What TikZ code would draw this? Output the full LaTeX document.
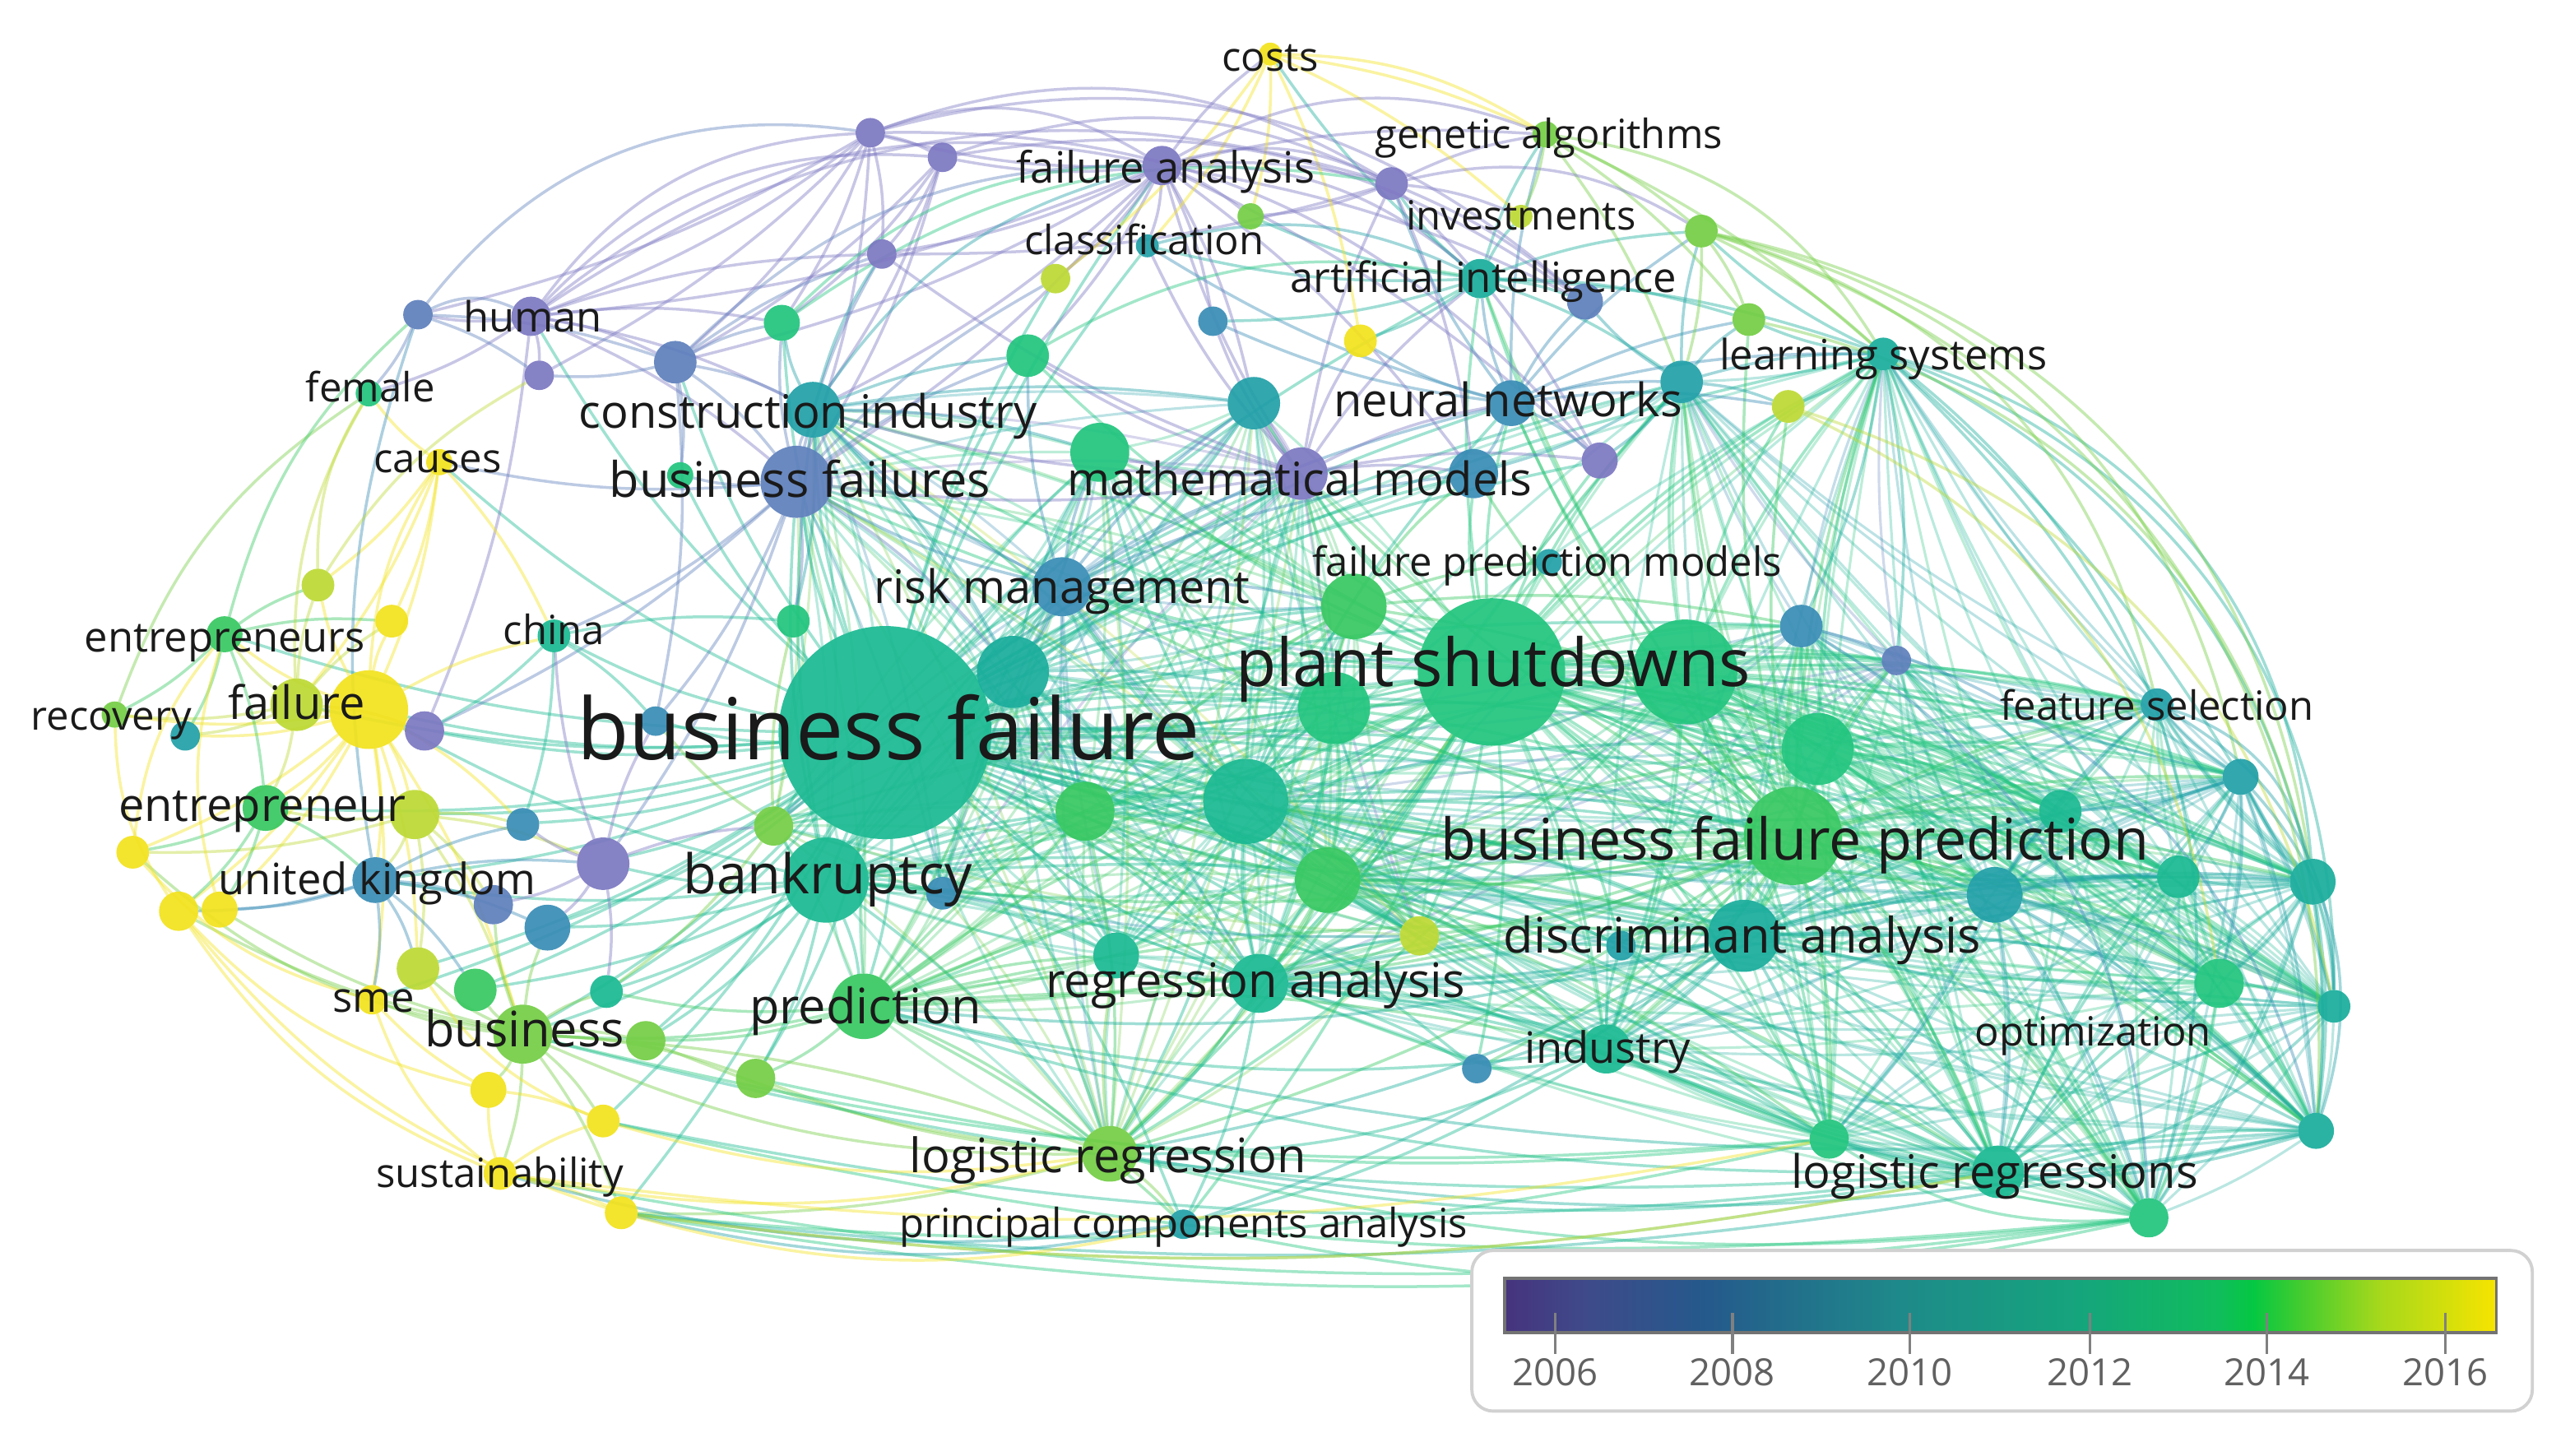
\documentclass[tikz,border=0pt]{standalone}
\usepackage{fontspec}
\setmainfont{Open Sans}
\pgfdeclarelayer{edges}
\pgfdeclarelayer{labels}
\pgfsetlayers{edges,main,labels}
\definecolor{Y6}{HTML}{7D78C2}
\definecolor{Y7}{HTML}{5F80BC}
\definecolor{Y8}{HTML}{3A8DB6}
\definecolor{Y9}{HTML}{22A0A8}
\definecolor{Y10}{HTML}{1AAD9C}
\definecolor{Y11}{HTML}{1BB992}
\definecolor{Y12}{HTML}{22C57E}
\definecolor{Y13}{HTML}{38C862}
\definecolor{Y14}{HTML}{74CE46}
\definecolor{Y15}{HTML}{BCD935}
\definecolor{Y16}{HTML}{F2E21E}
\definecolor{labtext}{HTML}{1A1A1A}
\definecolor{V0}{HTML}{46337E}
\definecolor{V1}{HTML}{3F4A8A}
\definecolor{V2}{HTML}{25598C}
\definecolor{V3}{HTML}{1E8A8A}
\definecolor{V4}{HTML}{15A57C}
\definecolor{V5}{HTML}{10BD5C}
\definecolor{V6}{HTML}{05C842}
\definecolor{V7}{HTML}{40CC30}
\definecolor{V8}{HTML}{A4D81C}
\definecolor{V9}{HTML}{F7E400}
\pgfdeclarehorizontalshading{viridisbar}{100bp}{color(0bp)=(V0); color(25bp)=(V0); color(29bp)=(V1); color(35bp)=(V2); color(45bp)=(V3); color(54bp)=(V4); color(61bp)=(V5); color(62.75bp)=(V6); color(65bp)=(V7); color(69bp)=(V8); color(75bp)=(V9); color(100bp)=(V9)}
\newcommand\rightset{ps,ps3,g14,bfp,t10,tg2,t11,t12,tg3,g15,t13,t14,lrs,g17,g16,da,ind,fs,b6,p8,t8,g13,ra,bf,ls,t3}
\newcommand\centreset{bf,bank,pred,t7,rm,g12,t8,g13,ra,ra1,lr,ps,ps1,ps2,g4,mm,t2,g11,t9,yg4,bfs,ci}
\begin{document}
\begin{tikzpicture}[x=0.02cm, y=-0.02cm,
  kw/.style={circle, inner sep=0pt, outer sep=0pt, fill opacity=0.93},
  lnk/.style={line width=1pt, draw opacity=0.42},
  lnkd/.style={line width=0.9pt, draw opacity=0.3},
  lab/.style={font=\fontsize{#1}{#1}\selectfont, anchor=mid, inner sep=0pt, text=labtext, yshift={-0.23*#1*1pt}},
  yearlab/.style={font=\fontsize{13}{13}\selectfont, text=black!62, anchor=mid, inner sep=0pt},
  tickmark/.style={draw=black!50, line width=0.9pt}]
\useasboundingbox (0,0) rectangle (1568,888);
% ---------- keyword nodes ----------
\foreach \n/\x/\y/\r/\c in {
bf/540/447/65/Y11, ps/910/410/45/Y12,
costs/775/33/7/Y16, gen/943/82/8/Y14, fa/709/101/12/Y6, p1/531/81/9/Y6, p2/575/96/9/Y6,
p3/538/155/9/Y6, inv/849/112/10/Y6, invy/928/132/7/Y15, g1/763/132/8/Y14, cls/700/150/7/Y9,
y1/644/170/9/Y15, ai/903/170/12/Y10, b1/967/184/11/Y7, g2/1038/141/10/Y14, yg1/1067/195/10/Y14,
t1/740/196/9/Y8, y2/830/208/10/Y16, g3/627/217/13/Y12, t2/765/246/16/Y9, nn/922/246/14/Y8,
t3/1026/233/13/Y9, y3/1091/248/10/Y15, ls/1149/216/10/Y10, g4/671/276/18/Y12, mm/794/289/16/Y6,
t4/899/289/15/Y8, p4/976/281/11/Y6, hu0/255/192/9/Y7, human/324/193/12/Y6, p5/329/229/9/Y6,
b2/412/221/13/Y7, female/225/240/8/Y12, g5/477/197/11/Y12, ci/496/250/17/Y9, causes/268/282/8/Y16,
bfs/486/294/22/Y7, g6/415/290/8/Y12, yg2/194/357/10/Y15, y4/239/379/10/Y16, ent/137/387/11/Y13,
china/338/388/10/Y11, g7/484/379/10/Y12, fail1/181/430/16/Y15, fail2/225/433/24/Y16, p6/259/446/12/Y6,
rec/70/436/8/Y14, t5/113/449/9/Y9, t6/400/440/9/Y8, entr1/162/493/14/Y13, entr2/253/497/15/Y15,
y5/81/520/10/Y16, b3/319/503/10/Y8, p7/368/527/16/Y6, uk/229/537/14/Y8, b4/301/552/12/Y7,
b5/334/566/14/Y8, y6/109/556/12/Y16, y7/134/555/11/Y16, yg3/255/591/13/Y15, sme/227/610/9/Y16,
g8/290/604/13/Y13, tg1/370/605/10/Y11, bus/319/631/18/Y14, g9/394/635/12/Y14, y8/298/665/11/Y16,
y9/368/684/10/Y16, sus/305/716/10/Y16, y10/379/740/10/Y16, g10/461/658/12/Y14, bank/504/537/26/Y11,
pred/527/614/20/Y13, g11/472/504/12/Y14, t7/618/410/22/Y10, rm/648/358/18/Y8, g12/662/495/18/Y13,
t8/760/489/26/Y11, t9/575/545/10/Y8, ps1/826/370/20/Y13, ps2/814/432/22/Y12, ps3/1028/410/32/Y12,
g13/810/537/20/Y13, yg4/866/571/12/Y15, ra1/681/583/14/Y11, ra/768/600/18/Y11, lr/677/704/17/Y14,
pca/722/747/9/Y9, da1/989/577/9/Y9, da/1064/571/22/Y10, ind1/901/652/9/Y8, ind/980/640/15/Y11,
b6/1099/382/13/Y8, p8/1157/403/9/Y7, fs/1316/430/10/Y9, g14/1109/457/22/Y12, bfp/1094/510/30/Y13,
t10/1217/546/17/Y9, tg2/1329/535/13/Y11, t11/1411/538/14/Y10, t12/1367/474/11/Y9, tg3/1257/495/13/Y11,
g15/1354/600/15/Y12, t13/1424/614/10/Y10, t14/1413/690/11/Y10, g16/1116/695/12/Y12, lrs/1219/715/16/Y11,
g17/1311/743/12/Y12, t15/945/343/8/Y9}{
  \xglobal\colorlet{col-\n}{\c}
  \node[kw, fill=\c, minimum size={2*\r*0.02cm}] (\n) at (\x,\y) {};
}
% ---------- links ----------
\begin{pgfonlayer}{edges}
% dense right and centre webs
\foreach \a [count=\i] in \rightset {
  \foreach \b [count=\j] in \rightset {
    \ifnum\j>\i \draw[lnkd, draw=col-\a] (\a) to[bend left=6] (\b); \fi
  }
}
\foreach \a [count=\i] in \centreset {
  \foreach \b [count=\j] in \centreset {
    \ifnum\j>\i \draw[lnkd, draw=col-\a] (\a) to[bend right=6] (\b); \fi
  }
}
\foreach \a/\l in {
bf/{ps,ps3,ps2,ps1,bfp,g14,bank,pred,t7,rm,g12,t8,t9,g13,ra,ra1,lr,pca,da,da1,ind,ind1,bfs,ci,g4,mm,t2,nn,ai,fa,human,b2,g5,g7,china,fail2,fail1,entr1,entr2,uk,p7,b5,b3,bus,g8,tg1,g9,g10,y9,sme,p6,t6,g11,yg4,t10,tg2,lrs,g16,t3,ls,b6,g3,y1,t4,cls,p4,ent,causes,g6,yg3,y10},
ps/{ps3,ps1,ps2,bfp,g14,da,ra,g13,t8,nn,ai,mm,t4,rm,t7,bank,pred,lr,ind,t10,tg2,t11,t12,fs,b6,p8,g15,lrs,t13,t14,g16,g17,ls,t3,y3,yg4,ci,bfs,g4,g12,tg3,da1,t15,p4,g3,t2,ra1,ind1,pca},
bfp/{ps3,g14,da,t10,tg2,t11,t12,tg3,g15,t13,t14,lrs,g16,g17,fs,b6,p8,ind,ind1,ra,lr,pred,bank,t8,g13,ls,nn,ai,t3,yg1,y3,mm,t4,rm,g12,yg4,da1,t15},
ps3/{g14,da,t10,tg2,t11,t12,fs,g15,t13,t14,lrs,g17,b6,p8,ls,t3,y3,nn,ai,ind,ra,lr,tg3,g16},
g14/{t10,tg2,t11,t12,tg3,g15,t13,t14,lrs,g17,fs,da,b6,ls},
da/{t10,tg2,t11,g15,t13,t14,lrs,g16,g17,ind,ind1,da1,ra,lr,pca,tg3,t12},
t10/{tg2,t11,t12,tg3,g15,t13,t14,lrs,g17,g16,fs},
lrs/{g17,g16,t14,t13,g15,tg2,t11,t12,ind,da1},
t11/{t12,tg2,g15,t13,t14,g17,fs},
t12/{fs,tg2,tg3,g15,t13,t14},
g15/{t13,t14,g17,tg2},
bank/{pred,t8,g12,ra,ra1,lr,t7,rm,bfs,ci,uk,bus,g8,fail2,p7,b5,t9,g11,tg1,g9,g10,mm,g13,da,ind},
pred/{lr,ra,ra1,g10,bus,g9,tg1,t8,g12,g13,pca,da,ind},
ra/{lr,ra1,pca,g13,t8,yg4,ind1,ind,da1,g16,lrs},
t8/{g12,g13,ra1,lr,t7,rm,ps2,ps1,g4,mm,nn,yg4,bfp,da,g14,ps3,t10,lrs,ind},
g13/{da,bfp,ind,lr,ra,g14,t10,lrs,g16},
g12/{ra,lr,pred,g13,ps2,ps1},
t7/{ps1,ps2,g4,g12,rm},
ps2/{ps1,g13,g12,ra,da,bfp,g14},
ps1/{g4,mm,t4,t15,g14,b6},
rm/{t7,g4,mm,ci,bfs,t2,nn,g3,ps1,t4},
mm/{g4,t2,t4,nn,ai,p4,fa,inv,cls,t1,y2,g3,ci,bfs,p3},
nn/{ai,t4,t3,y2,t1,b1,p4,y3,ls,g2,yg1,gen,inv,cls},
ai/{gen,inv,invy,g2,yg1,b1,cls,y2,t3,ls,g1,t1,costs},
t3/{ls,y3,yg1,g2,b1,t4,p4},
ls/{y3,yg1,g2,b6,p8,fs,t12},
fa/{p1,p2,p3,inv,cls,human,b2,bfs,ci,t2,t1,g1,b1,p4,t4,g3,y1,gen,costs},
p1/{p2,p3,human,hu0,p5,b2,bfs,g5},
p2/{p3,b2,bfs,g5,ci},
inv/{p4,b1,gen,invy,g1,t4,p3},
costs/{gen,cls,y2,invy,g1,y1},
gen/{g2,yg1,invy,ls,t3},
g2/{yg1,t3,ls},
human/{hu0,p5,b2,female,bfs,ci,p6,g5,p3},
hu0/{p5,female,b2},
b2/{p5,bfs,ci,g5,g6,t6,p3},
bfs/{ci,g6,g5,g7,t6,china,p6,causes,p7,t7,g3,y1,p3},
ci/{g5,g3,g4,t2,t7,g7,p3},
causes/{yg2,y4,fail2,female,china,fail1},
fail2/{fail1,y4,yg2,ent,rec,entr1,entr2,y5,uk,china,p6,bus,sme,yg3,y6,y7,b3,t5},
fail1/{ent,rec,t5,entr1,y4,yg2,p6},
ent/{rec,yg2,y4,entr1,t5},
entr2/{entr1,uk,y5,b3,p7,b4,yg3,bus},
entr1/{y5,y6,y7,uk},
uk/{y6,y7,b4,b5,p7,b3,yg3,sme,g8},
bus/{g8,sme,yg3,y8,y9,sus,y10,g9,tg1,b4,b5,g10,lr,y6,y7},
sus/{y8,y9,y10},
y8/{y9,sme},
p7/{b3,b4,b5,t6,tg1,g11,china},
china/{t6,g7,b3,p6},
g11/{g7,t6,tg1},
lr/{pca,g10,y10,ra1,g9},
ind/{ind1,da1,g16,pca}}{
  \foreach \b in \l {\draw[lnk, draw=col-\a] (\a) to[bend left=8] (\b);}
}
% outer arcs
\foreach \a/\b/\g in {
lrs/y10/9, g17/y10/9, g17/sus/9, lrs/bus/9, g16/y10/9, g16/g10/9, lrs/pred/9, g17/lr/10,
t14/lr/10, t14/pred/9, lrs/lr/10, g17/pca/12, pca/y10/12, g16/bus/9, t14/g16/16, g17/g16/18,
t13/lrs/18, ind/lr/12, da/pred/10, ind/pred/10, g17/y9/9, lrs/y9/9, t14/y10/9, pca/sus/11,
y10/lrs/-9, sus/g16/-9, y9/lr/-12, y10/pca/-14, sus/lr/-12, bus/lr/-12,
ls/t14/35, ls/g17/35, ls/t11/35, ls/t13/35, g2/t11/35, g2/fs/30, g2/t12/32, b6/t14/30, ps3/t14/25,
yg1/t11/32, y3/t13/30, y3/g15/28, gen/ls/25, fs/t13/30, fs/t11/30, t12/t14/30, b6/g17/28, g2/t14/38,
p1/inv/25, p1/fa/25, p2/inv/22, human/fa/25, human/p1/25, hu0/p1/30, b2/fa/22, fa/inv/20, fa/gen/25,
p2/b1/22, p1/p4/25, human/p2/25, g5/fa/22, ci/fa/20, inv/g2/22, fa/ai/20, costs/gen/15, cls/ai/20,
g3/ai/20, g5/inv/22, hu0/human/25, p1/b1/28, human/inv/25,
sus/y6/16, bus/y5/16, y8/y6/16, uk/hu0/14, fail1/female/16, rec/female/18, y5/ent/16, y6/rec/16,
sme/y5/16, y10/y6/16, y9/yg3/16, sus/sme/16, y7/ent/16, ent/hu0/16, yg2/female/16, fail2/causes/14,
yg2/p5/14}{
  \draw[lnk, draw=col-\a] (\a) to[bend left=\g] (\b);
}
\end{pgfonlayer}
% ---------- labels ----------
\begin{pgfonlayer}{labels}
\foreach \t/\x/\y/\s [count=\i] in {
costs/775/33/14, genetic algorithms/945/80/14, failure analysis/711/101/15, investments/928/130/14,
classification/698/145/14, artificial intelligence/905/168/14.5, human/325/192/14.5,
learning systems/1149/215/14.5, female/226/235/14, construction industry/493/250/16,
neural networks/920/243/16, causes/267/278/14, business failures/488/292/17,
mathematical models/793/291/16, failure prediction models/944/341/14, risk management/648/357/16,
entrepreneurs/137/387/14.5, china/338/383/14, plant shutdowns/911/405/23,
feature selection/1316/429/14, recovery/68/435/14, failure/181/428/16, business failure/542/447/29.6,
entrepreneur/160/490/16, business failure prediction/1095/512/20, bankruptcy/505/533/19,
united kingdom/230/535/15, discriminant analysis/1063/570/17, regression analysis/766/597/16.5,
sme/228/607/14.5, prediction/528/613/17, business/320/627/17, optimization/1277/628/14,
industry/981/638/15, logistic regression/676/704/16.5, logistic regressions/1217/714/16,
sustainability/305/714/14, principal components analysis/722/745/14}{
  \node[lab=\s] (L\i) at (\x,\y) {\t};
}
% ---------- legend ----------
\draw[draw=black!18, line width=1.1pt, fill=white, rounded corners=0.26cm] (898,763) rectangle (1545,861);
\shade[shading=viridisbar] (918,780) rectangle (1523,813);
\draw[draw=black!55, line width=1pt] (918,780) rectangle (1523,813);
\foreach \x/\yr in {949/2006, 1057/2008, 1165/2010, 1275/2012, 1383/2014, 1492/2016}{
  \draw[tickmark] (\x,801) -- (\x,826);
  \node[yearlab] (yr\yr) at (\x,841) {\yr};
}
\end{pgfonlayer}
\end{tikzpicture}
\end{document}
